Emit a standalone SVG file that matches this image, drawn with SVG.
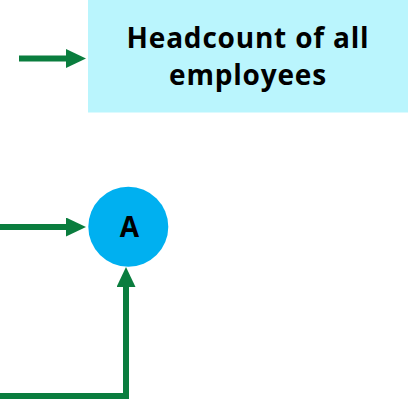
<svg xmlns="http://www.w3.org/2000/svg" width="408" height="400" viewBox="0 0 408 400">
<style>
.lbl{font-family:"Open Sans","Liberation Sans",sans-serif;font-weight:bold;fill:#000;text-anchor:middle;font-size:28px}
.conn{stroke:#0A7D3E;stroke-width:6;fill:none}
</style>
<defs>
<marker id="ah" markerWidth="20" markerHeight="19" refX="0" refY="9.5" orient="auto" markerUnits="userSpaceOnUse">
<path d="M0,0 L20,9.5 L0,19 Z" fill="#0A7D3E"/>
</marker>
</defs>
<g id="box">
<rect x="88" y="0" width="320" height="112.5" fill="#BAF5FD"/>
<text class="lbl" x="248" y="48" letter-spacing="0.8">Headcount of all</text>
<text class="lbl" x="248" y="85" letter-spacing="0.8">employees</text>
</g>
<g id="nodeA">
<circle cx="128.3" cy="226.7" r="40" fill="#00B0F0"/>
<text class="lbl" x="129.5" y="236.7">A</text>
</g>
<g id="connectors">
<path class="conn" d="M19,58.5 H66" marker-end="url(#ah)"/>
<path class="conn" d="M0,227 H66" marker-end="url(#ah)"/>
<path class="conn" d="M0,396 H126 V287" marker-end="url(#ah)"/>
</g>
</svg>
